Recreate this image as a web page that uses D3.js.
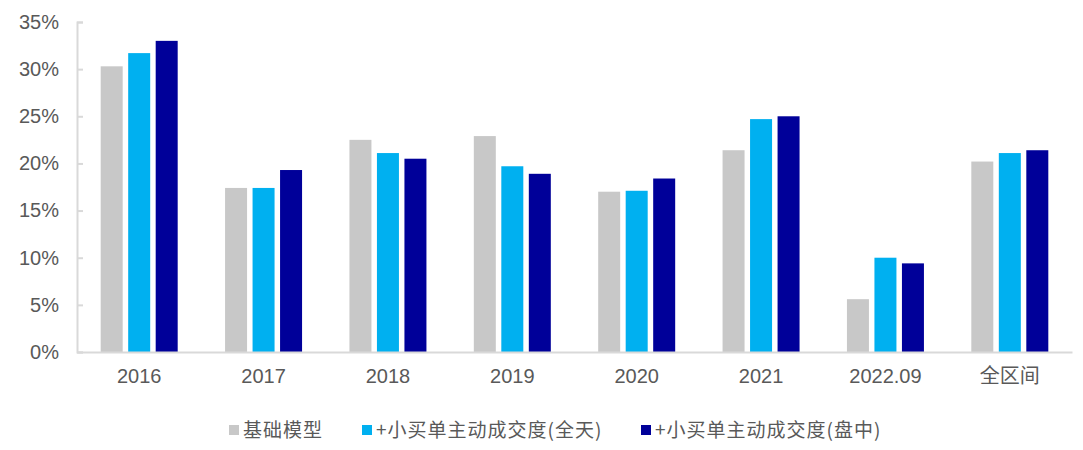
<!DOCTYPE html>
<html>
<head>
<meta charset="utf-8">
<script src="https://cdn.jsdelivr.net/npm/d3@7"></script>
<style>
  body { margin: 0; background: #fff; }
  svg { display: block; }
</style>
</head>
<body>
<div id="chart"></div>
<script>
var categories = ['2016', '2017', '2018', '2019', '2020', '2021', '2022.09', '全区间'];
var seriesNames = ['基础模型', '+小买单主动成交度(全天)', '+小买单主动成交度(盘中)'];
var baseModel = [30.3, 17.4, 22.5, 22.9, 17.0, 21.4, 5.6, 20.2];
var allDay = [31.7, 17.4, 21.1, 19.7, 17.1, 24.7, 10.0, 21.1];
var intraday = [33.0, 19.3, 20.5, 18.9, 18.4, 25.0, 9.4, 21.4];
var yTicks = [0, 5, 10, 15, 20, 25, 30, 35];

var colors = ['#c8c8c8', '#00b0f0', '#000099'];
var seriesValues = [baseModel, allDay, intraday];

var W = 1083, H = 450;
var m = {t: 22, r: 11, b: 98, l: 77};
var w = W - m.l - m.r, h = H - m.t - m.b;

var svg = d3.select('#chart').append('svg')
    .attr('width', W).attr('height', H);
var g = svg.append('g').attr('transform', 'translate(' + m.l + ',' + m.t + ')');

var x0 = d3.scaleBand().domain(categories).range([0, w]);
var groupW = 77;
var x1 = d3.scaleBand().domain(d3.range(3))
    .range([(x0.bandwidth() - groupW) / 2, (x0.bandwidth() + groupW) / 2])
    .paddingInner(0.2);
var y = d3.scaleLinear().domain([0, 35]).range([h, 0]);

// bars
var groups = g.selectAll('.grp').data(categories).enter()
    .append('g').attr('class', 'grp')
    .attr('transform', function(d) { return 'translate(' + x0(d) + ',0)'; });

groups.selectAll('rect')
    .data(function(d, i) { return seriesValues.map(function(s, k) { return {k: k, v: s[i]}; }); })
    .enter().append('rect')
    .attr('x', function(d) { return x1(d.k); })
    .attr('y', function(d) { return y(d.v); })
    .attr('width', x1.bandwidth())
    .attr('height', function(d) { return h - y(d.v); })
    .attr('fill', function(d) { return colors[d.k]; });

// y axis
var yAxis = g.append('g')
    .call(d3.axisLeft(y).tickValues(yTicks).tickSize(-6).tickPadding(18)
        .tickFormat(function(d) { return d + '%'; }));
yAxis.select('.domain').attr('stroke', '#d9d9d9').attr('stroke-width', 2);
yAxis.selectAll('.tick line').attr('stroke', '#d9d9d9').attr('stroke-width', 2);
yAxis.selectAll('text').attr('fill', '#595959')
    .style('font-family', '"Liberation Sans", Arial, sans-serif').style('font-size', '20px');

// x axis
var xAxis = g.append('g').attr('transform', 'translate(0,' + h + ')')
    .call(d3.axisBottom(x0).tickSize(0).tickPadding(17));
xAxis.select('.domain').attr('stroke', '#d9d9d9').attr('stroke-width', 2);
xAxis.selectAll('text').attr('fill', '#595959')
    .style('font-family', '"Liberation Sans", "Noto Sans CJK SC", Arial, sans-serif')
    .style('font-size', '20px');

// legend
var legendX = [229, 362, 641];
var legend = svg.append('g').attr('transform', 'translate(0,430)');
var items = legend.selectAll('.li').data(seriesNames).enter()
    .append('g').attr('class', 'li')
    .attr('transform', function(d, i) { return 'translate(' + legendX[i] + ',0)'; });
items.append('rect')
    .attr('x', 0).attr('y', -5).attr('width', 10).attr('height', 10)
    .attr('fill', function(d, i) { return colors[i]; });
items.append('text')
    .attr('x', 14).attr('dy', '0.35em')
    .attr('fill', '#595959')
    .style('font-family', '"Noto Sans CJK SC", sans-serif')
    .style('font-size', '19px')
    .style('letter-spacing', '1px')
    .text(function(d) { return d; });
</script>
</body>
</html>
